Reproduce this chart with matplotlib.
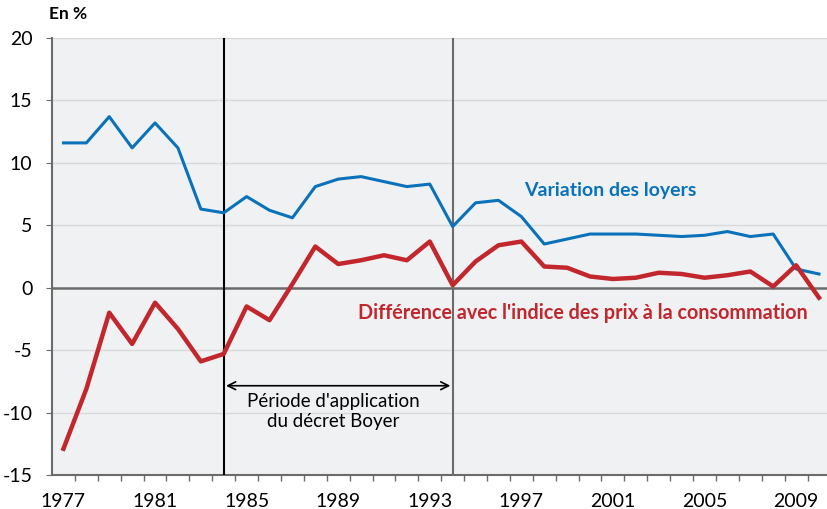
import numpy as np
import matplotlib.pyplot as plt

years = np.arange(1977, 2011)

# variation des loyers (%)
loyers = [11.6, 11.6, 13.7, 11.2, 13.2, 11.2, 6.3, 6.0, 7.3, 6.2,
          5.6, 8.1, 8.7, 8.9, 8.5, 8.1, 8.3, 4.9, 6.8, 7.0,
          5.7, 3.5, 3.9, 4.3, 4.3, 4.3, 4.2, 4.1, 4.2, 4.5,
          4.1, 4.3, 1.5, 1.1]

# différence avec l'indice des prix à la consommation (points)
diff_ipc = [-12.9, -8.1, -2.0, -4.5, -1.2, -3.3, -5.9, -5.3, -1.5, -2.6,
            0.3, 3.3, 1.9, 2.2, 2.6, 2.2, 3.7, 0.2, 2.1, 3.4,
            3.7, 1.7, 1.6, 0.9, 0.7, 0.8, 1.2, 1.1, 0.8, 1.0,
            1.3, 0.1, 1.8, -0.8]

decret_debut, decret_fin = 1984, 1994
tick_years = [1977, 1981, 1985, 1989, 1993, 1997, 2001, 2005, 2009]

blue = '#0a72ba'
red = '#c1272d'
gray = '#6b6b6b'

plt.rcParams['font.family'] = ['Lato', 'DejaVu Sans']

fig = plt.figure(figsize=(8.27, 5.09), dpi=100)
ax = fig.add_axes([0.0629, 0.0668, 0.9371, 0.8585])
ax.set_facecolor('#f0f1f3')

ax.set_xlim(1976.5, 2010.35)
ax.set_ylim(-15, 20)
ax.set_yticks(np.arange(-15, 21, 5))
ax.set_yticklabels([str(v) for v in range(-15, 21, 5)])
ax.set_xticks(tick_years)
ax.set_xticks(np.arange(1977.5, 2010.5, 1), minor=True)

for v in range(-15, 21, 5):
    if v != 0:
        ax.axhline(v, color='#d8d9db', lw=1.0, zorder=1)
ax.axhline(0, color=gray, lw=1.8, zorder=2)

ax.axvline(decret_debut, color='black', lw=1.5, zorder=3)
ax.axvline(decret_fin, color=gray, lw=1.5, zorder=3)

ax.plot(years, loyers, color=blue, lw=2.2, zorder=4)
ax.plot(years, diff_ipc, color=red, lw=3.2, zorder=5)

ax.annotate('', xy=(decret_debut + 0.1, -7.85), xytext=(decret_fin - 0.1, -7.85),
            arrowprops=dict(arrowstyle='<->', color='black', lw=1.2,
                            shrinkA=0, shrinkB=0, mutation_scale=14))
ax.text((decret_debut + decret_fin) / 2 - 0.2, -9.9,
        "Période d'application\ndu décret Boyer",
        ha='center', va='center', fontsize=13.5, linespacing=1.2)

ax.text(2000.9, 7.8, 'Variation des loyers', color=blue, fontsize=14,
        fontweight='bold', ha='center', va='center')
ax.text(1999.7, -2.0, "Différence avec l'indice des prix à la consommation",
        color=red, fontsize=14.2, fontweight='bold', ha='center', va='center')

fig.text(0.059, 0.972, 'En %', fontsize=12.5, fontweight='bold', va='center')

for s in ['top', 'right']:
    ax.spines[s].set_visible(False)
for s in ['left', 'bottom']:
    ax.spines[s].set_color(gray)
    ax.spines[s].set_linewidth(1.5)

ax.tick_params(axis='y', which='major', length=4, color=gray, pad=10,
               labelsize=14)
ax.tick_params(axis='x', which='major', length=0, pad=13, labelsize=14)
ax.tick_params(axis='x', which='minor', length=4, color=gray, width=1)

fig.savefig('out.png', dpi=100)
